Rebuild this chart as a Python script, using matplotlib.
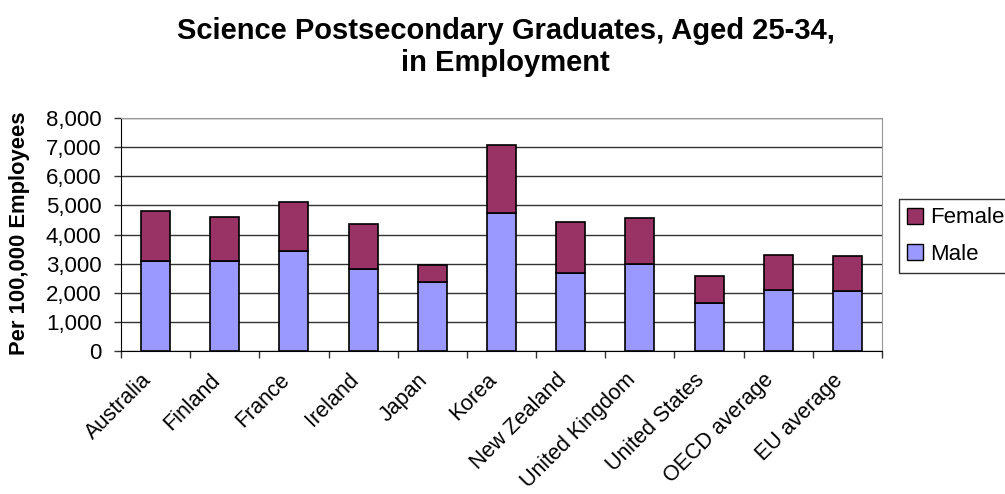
import matplotlib
matplotlib.use("Agg")
import matplotlib.pyplot as plt
import numpy as np
from matplotlib.patches import Patch

categories = ["Australia", "Finland", "France", "Ireland", "Japan", "Korea",
              "New Zealand", "United Kingdom", "United States", "OECD average", "EU average"]
male = [3080, 3080, 3440, 2820, 2370, 4730, 2670, 2985, 1640, 2090, 2055]
total = [4790, 4590, 5100, 4370, 2940, 7060, 4420, 4580, 2570, 3295, 3250]
female = [t - m for t, m in zip(total, male)]
yticks = [0, 1000, 2000, 3000, 4000, 5000, 6000, 7000, 8000]

plt.rcParams['font.family'] = ['Liberation Sans', 'DejaVu Sans']

fig = plt.figure(figsize=(10.05, 4.94), dpi=100)
ax = fig.add_axes([121/1005, 1 - 351/494, (882-121)/1005, (351-118)/494])

x = np.arange(len(categories))
w = 0.42
ax.bar(x, male, w, color="#9999FF", edgecolor="black", linewidth=1.2, label="Male", zorder=3)
ax.bar(x, female, w, bottom=male, color="#993366", edgecolor="black", linewidth=1.2, label="Female", zorder=3)

ax.set_xlim(-0.5, len(categories) - 0.5)
ax.set_ylim(0, 8000)
ax.set_yticks(yticks)
ax.set_yticklabels([f"{v:,}" for v in yticks], fontsize=16)
ax.yaxis.grid(True, color="#333333", linewidth=1.0, zorder=0)
ax.set_axisbelow(True)

ax.set_xticks(np.arange(-0.5, len(categories), 1.0))
ax.set_xticklabels([])
ax.tick_params(axis='x', length=5, width=1, color="#333333", direction='out')
ax.tick_params(axis='y', length=5, width=1, color="#333333", direction='out', pad=9)
for i, c in enumerate(categories):
    ax.text(i - 0.22, -640, c, rotation=45, rotation_mode='anchor', ha='right', va='top',
            fontsize=15.5)

for s in ['top', 'right']:
    ax.spines[s].set_color("#999999")
for s in ['left', 'bottom']:
    ax.spines[s].set_color("black")

fig.text(20/1005, 1 - 233/494, "Per 100,000 Employees", rotation=90, ha='center', va='center',
         fontsize=15.8, fontweight='bold')

fig.text(0.503, 1 - 31/494, "Science Postsecondary Graduates, Aged 25-34,",
         ha='center', va='center', fontsize=21, fontweight='bold')
fig.text(0.503, 1 - 63/494, "in Employment",
         ha='center', va='center', fontsize=21, fontweight='bold')

handles = [Patch(facecolor="#993366", edgecolor="black"), Patch(facecolor="#9999FF", edgecolor="black")]
leg = fig.legend(handles, ["Female", "Male"], loc='upper left', bbox_to_anchor=(899/1005, 1 - 199/494),
                 fontsize=16, frameon=True, fancybox=False, edgecolor="black",
                 handlelength=0.72, handleheight=0.72, handletextpad=0.3, borderpad=0.38,
                 labelspacing=0.7, borderaxespad=0)
leg.get_frame().set_linewidth(1.0)

fig.savefig("out.png", dpi=100)
